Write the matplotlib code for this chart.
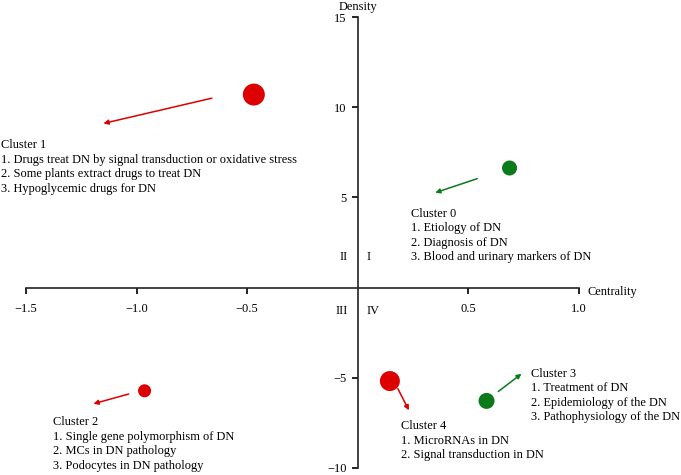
import matplotlib.pyplot as plt

plt.rcParams['font.family'] = ['Liberation Serif', 'DejaVu Serif']

# cluster centres (centrality, density) and bubble sizes
clusters = ["Cluster 0", "Cluster 1", "Cluster 2", "Cluster 3", "Cluster 4"]
centrality = [0.686, -0.47, -0.964, 0.582, 0.145]
density = [6.63, 10.7, -5.72, -6.28, -5.18]
sizes = [117, 250, 88, 133, 207]
colors = ["#0b7a18", "#dd0000", "#dd0000", "#0b7a18", "#dd0000"]

# arrow start / end in data units
arrow_x0 = [0.54, -0.66, -1.036, 0.635, 0.181]
arrow_y0 = [6.04, 10.5, -5.9, -5.76, -5.6]
arrow_x1 = [0.35, -1.15, -1.195, 0.74, 0.231]
arrow_y1 = [5.26, 9.1, -6.44, -4.78, -6.8]

topics = [
    ["1. Etiology of DN", "2. Diagnosis of DN", "3. Blood and urinary markers of DN"],
    ["1. Drugs treat DN by signal transduction or oxidative stress",
     "2. Some plants extract drugs to treat DN", "3. Hypoglycemic drugs for DN"],
    ["1. Single gene polymorphism of DN", "2. MCs in DN pathology",
     "3. Podocytes in DN pathology"],
    ["1. Treatment of DN", "2. Epidemiology of the DN", "3. Pathophysiology of the DN"],
    ["1. MicroRNAs in DN", "2. Signal transduction in DN"],
]
label_pos = [(0.24, 4.1), (-1.615, 7.9), (-1.38, -7.45), (0.785, -4.77), (0.196, -7.68)]

xticks = [-1.5, -1.0, -0.5, 0.5, 1.0]
yticks = [-10, -5, 5, 10, 15]

fs = 8.9
fig = plt.figure(figsize=(6.81, 4.75), dpi=100)
ax = fig.add_axes([26 / 681, 1 - 468 / 475, (579 - 26) / 681, (468 - 17) / 475])
ax.set_xlim(-1.5, 1.0)
ax.set_ylim(-10, 15)

for s in ["top", "right"]:
    ax.spines[s].set_visible(False)
for s in ["left", "bottom"]:
    ax.spines[s].set_position(("data", 0))
    ax.spines[s].set_linewidth(1.2)
    ax.spines[s].set_color("#222222")

ax.set_xticks(xticks)
ax.set_xticklabels(["\u22121.5", "\u22121.0", "\u22120.5", "0.5", "1.0"])
ax.set_yticks(yticks)
ax.set_yticklabels(["\u221210", "\u22125", "5", "10", "15"])
ax.tick_params(axis="x", direction="out", length=4, width=1.2, pad=7, labelsize=fs)
ax.tick_params(axis="y", direction="out", length=4, width=1.2, pad=4, labelsize=fs)

ax.scatter(centrality, density, s=sizes, c=colors, zorder=3, linewidths=0)

for i in range(len(clusters)):
    ax.annotate("", xy=(arrow_x1[i], arrow_y1[i]), xytext=(arrow_x0[i], arrow_y0[i]),
                arrowprops=dict(arrowstyle="-|>", color=colors[i], lw=1.1,
                                mutation_scale=7, shrinkA=0, shrinkB=0))
    # one annotation per line, 14.6 px apart
    lines = [clusters[i]] + topics[i]
    for j, line in enumerate(lines):
        ax.annotate(line, xy=label_pos[i], xytext=(0, -14.6 * j * 0.72),
                    textcoords="offset points", fontsize=fs, va="center",
                    ha="left", annotation_clip=False)

# quadrant labels
ax.text(-0.045, 1.67, "II", fontsize=fs, ha="right", va="center")
ax.text(0.04, 1.67, "I", fontsize=fs, ha="left", va="center")
ax.text(-0.045, -1.3, "III", fontsize=fs, ha="right", va="center")
ax.text(0.04, -1.3, "IV", fontsize=fs, ha="left", va="center")

ax.text(0, 15.58, "Density", fontsize=fs, ha="center", va="center", clip_on=False)
ax.text(1.04, -0.25, "Centrality", fontsize=fs, ha="left", va="center", clip_on=False)

fig.savefig("out.png", dpi=100)
